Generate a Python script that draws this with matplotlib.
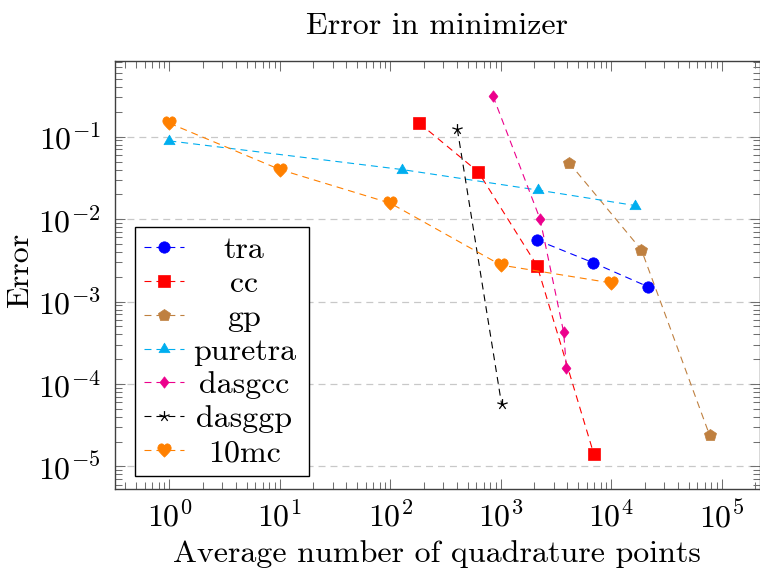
import matplotlib
matplotlib.use("Agg")
import matplotlib.pyplot as plt
import numpy as np
from matplotlib.path import Path
from matplotlib.ticker import LogLocator, NullFormatter

plt.rcParams["font.family"] = "cmr10"
plt.rcParams["mathtext.fontset"] = "cm"
plt.rcParams["axes.formatter.use_mathtext"] = True
plt.rcParams["lines.scale_dashes"] = False

# ---- data -------------------------------------------------------------
tra_x = [2128, 6840, 21540]
tra_y = [5.57e-3, 2.96e-3, 1.51e-3]

cc_x = [183, 626, 2128, 6930]
cc_y = [0.146, 0.0373, 2.72e-3, 1.42e-5]

gp_x = [4150, 18740, 77400]
gp_y = [0.0483, 4.22e-3, 2.4e-5]

puretra_x = [1, 127, 2173, 16530]
puretra_y = [0.089, 0.040, 0.0225, 0.0146]

dasgcc_x = [849, 2265, 3705, 3920]
dasgcc_y = [0.312, 0.0100, 4.22e-4, 1.56e-4]

dasggp_x = [404, 1016]
dasggp_y = [0.123, 5.65e-5]

mc10_x = [1, 10, 100, 1000, 10000]
mc10_y = [0.146, 0.040, 0.0156, 2.77e-3, 1.68e-3]

labels = ["tra", "cc", "gp", "puretra", "dasgcc", "dasggp", "10mc"]

# ---- custom marker shapes ---------------------------------------------
M, C, L, CL = Path.MOVETO, Path.CURVE4, Path.LINETO, Path.CLOSEPOLY
heart = Path(
    [(0, -1),
     (-0.5, -0.5), (-1.0, -0.1), (-1.0, 0.35),
     (-1.0, 0.8), (-0.65, 1.0), (-0.45, 1.0),
     (-0.2, 1.0), (-0.05, 0.85), (0, 0.65),
     (0.05, 0.85), (0.2, 1.0), (0.45, 1.0),
     (0.65, 1.0), (1.0, 0.8), (1.0, 0.35),
     (1.0, -0.1), (0.5, -0.5), (0, -1),
     (0, -1)],
    [M] + [C] * 18 + [CL])

tri = Path([(0, 1), (-0.866, -0.5), (0.866, -0.5), (0, 1)], [M, L, L, CL])
diamond = Path([(0, 1), (0.78, 0), (0, -1), (-0.78, 0), (0, 1)], [M, L, L, L, CL])

ang = np.deg2rad(90 + 72 * np.arange(5))
star_v, star_c = [], []
for a in ang:
    star_v += [(0, 0), (np.cos(a), np.sin(a))]
    star_c += [M, L]
star = Path(star_v, star_c)

# ---- colours ------------------------------------------------------------
c_blue = "#0000ff"
c_red = "#ff0000"
c_brown = "#bf8040"
c_cyan = "#00aeef"
c_magenta = "#ec008c"
c_black = "#000000"
c_orange = "#ff8000"

dash = (0, (5.0, 3.6))
lw = 0.8

fig = plt.figure(figsize=(7.6, 5.69), dpi=100)
ax = fig.add_axes([115 / 760, 1 - 489.3 / 569, (759.5 - 115) / 760, (489.3 - 61) / 569])

series = [
    (tra_x, tra_y, c_blue, "o", 8.2, True),
    (cc_x, cc_y, c_red, "s", 8.6, True),
    (gp_x, gp_y, c_brown, "p", 8.9, True),
    (puretra_x, puretra_y, c_cyan, tri, 9.2, True),
    (dasgcc_x, dasgcc_y, c_magenta, diamond, 8.2, True),
    (dasggp_x, dasggp_y, c_black, star, 7.8, False),
    (mc10_x, mc10_y, c_orange, heart, 9.6, True),
]

for (xs, ys, col, mk, ms, filled), lab in zip(series, labels):
    ax.plot(xs, ys, ls=dash, lw=lw, color=col, marker=mk, ms=ms,
            mfc=col if filled else "none", mec=col,
            mew=0.5 if filled else 0.9, label=lab)

ax.set_xscale("log")
ax.set_yscale("log")
ax.set_xlim(10 ** -0.492, 10 ** 5.341)
ax.set_ylim(10 ** -5.279, 10 ** -0.081)

for axis in (ax.xaxis, ax.yaxis):
    axis.set_major_locator(LogLocator(base=10, numticks=20))
    axis.set_minor_locator(LogLocator(base=10, subs=np.arange(2, 10), numticks=20))
    axis.set_minor_formatter(NullFormatter())

ax.tick_params(which="both", direction="in", top=True, right=True,
               color="#707070", width=0.75, labelsize=23)
ax.tick_params(which="major", length=7.5)
ax.tick_params(which="minor", length=5)
ax.tick_params(axis="x", which="major", pad=8)
ax.tick_params(axis="y", which="major", pad=10)

for sp in ax.spines.values():
    sp.set_color("#404040")
    sp.set_linewidth(1.0)

ax.yaxis.grid(True, which="major", color="#c8c8c8", lw=0.9, ls=dash)
ax.set_axisbelow(True)

ax.set_title("Error in minimizer", fontsize=23, pad=19.2)
ax.set_xlabel("Average number of quadrature points", fontsize=23)
ax.set_ylabel("Error", fontsize=23)
ax.xaxis.set_label_coords(0.5, -0.118)
ax.yaxis.set_label_coords(-0.126, 0.51)

fs_px = 23 * 100 / 72.0
leg = ax.legend(loc="lower left", bbox_to_anchor=(0.031, 0.031), borderaxespad=0,
                fontsize=23, fancybox=False, framealpha=1, edgecolor="black",
                handlelength=40 / fs_px, borderpad=0.28, labelspacing=0.17,
                handletextpad=0.40, numpoints=1)
leg.get_frame().set_linewidth(1.0)

# centre the entry labels within the text column of the legend box
fig.canvas.draw()
renderer = fig.canvas.get_renderer()
lbb = leg.get_window_extent(renderer)
cx = lbb.x0 + 0.629 * lbb.width
for t in leg.get_texts():
    tx, ty = t.get_transform().transform(t.get_position())
    fig.text(cx / fig.bbox.width, ty / fig.bbox.height, t.get_text(),
             ha="center", va="baseline", fontsize=23, zorder=10)
    t.set_alpha(0)

fig.savefig("out.png", dpi=100)
